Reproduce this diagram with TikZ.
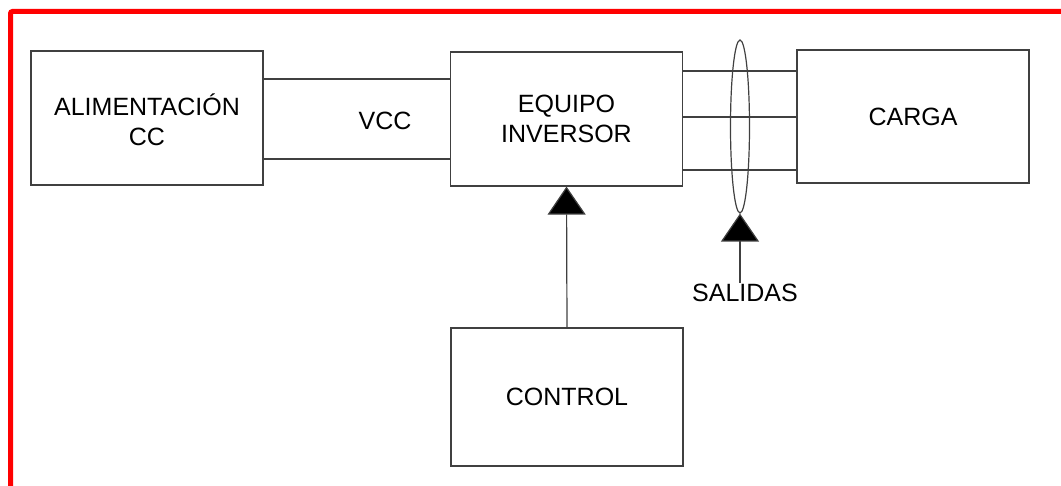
\documentclass[tikz,border=0pt]{standalone}
\usepackage{fontspec}
\setmainfont{Liberation Sans}
\usetikzlibrary{shapes.geometric, arrows.meta, positioning}
\usepackage{xcolor}

\newcommand{\lowered}[1]{\raisebox{-4pt}[18pt][0pt]{#1}}

\begin{document}
\begin{tikzpicture}[
  x=1pt, y=-1pt,
  block/.style={draw=black!75, line width=1.2pt, minimum width=232pt, minimum height=134pt, align=center, font=\fontsize{25}{30}\selectfont, inner sep=0pt},
  lbl/.style={font=\fontsize{25}{30}\selectfont, inner sep=0pt},
  wire/.style={draw=black!75, line width=1.2pt},
  tip/.style={draw=black!75, line width=1.2pt, -{Triangle[width=38pt, length=28pt, fill=black]}},
  >=Latex
]
\useasboundingbox (0,0) rectangle (1061,486);
\draw[red, line width=5pt, rounded corners=2pt] (10.5,486) -- (10.5,11.5) -- (1061,11.5);

\node[block] (alim)    at (147,118)   {\lowered{ALIMENTACIÓN}\\\lowered{CC}};
\node[block] (equipo)  at (566.5,119) {EQUIPO\\INVERSOR};
\node[block, minimum height=133pt] (carga)   at (913,116.5) {CARGA};
\node[block, minimum height=138pt] (control) at (567,397)   {CONTROL};

\node[lbl] (vcc) at (385,121) {VCC};
\node[lbl] (salidas) at (745,293) {SALIDAS};

\node[ellipse, draw=black!75, line width=1.2pt, minimum width=19pt, minimum height=173pt, inner sep=0pt] (bundle) at (740,126.5) {};

% alimentacion -> inversor
\draw[wire] ([yshift=39pt]alim.east) -- ([yshift=39pt]alim.east -| equipo.west);
\draw[wire] ([yshift=-41pt]alim.east) -- ([yshift=-41pt]alim.east -| equipo.west);

% salidas del inversor
\draw[wire] ([yshift=48pt]equipo.east) -- ([yshift=48pt]equipo.east -| carga.west);
\draw[wire] ([yshift=2pt]equipo.east) -- ([yshift=2pt]equipo.east -| carga.west);
\draw[wire] ([yshift=-51pt]equipo.east) -- ([yshift=-51pt]equipo.east -| carga.west);

\draw[tip] (control.north) -- (equipo.south);
\draw[tip] ([yshift=1pt]bundle.south |- salidas.north) -- (bundle.south);

\end{tikzpicture}
\end{document}
